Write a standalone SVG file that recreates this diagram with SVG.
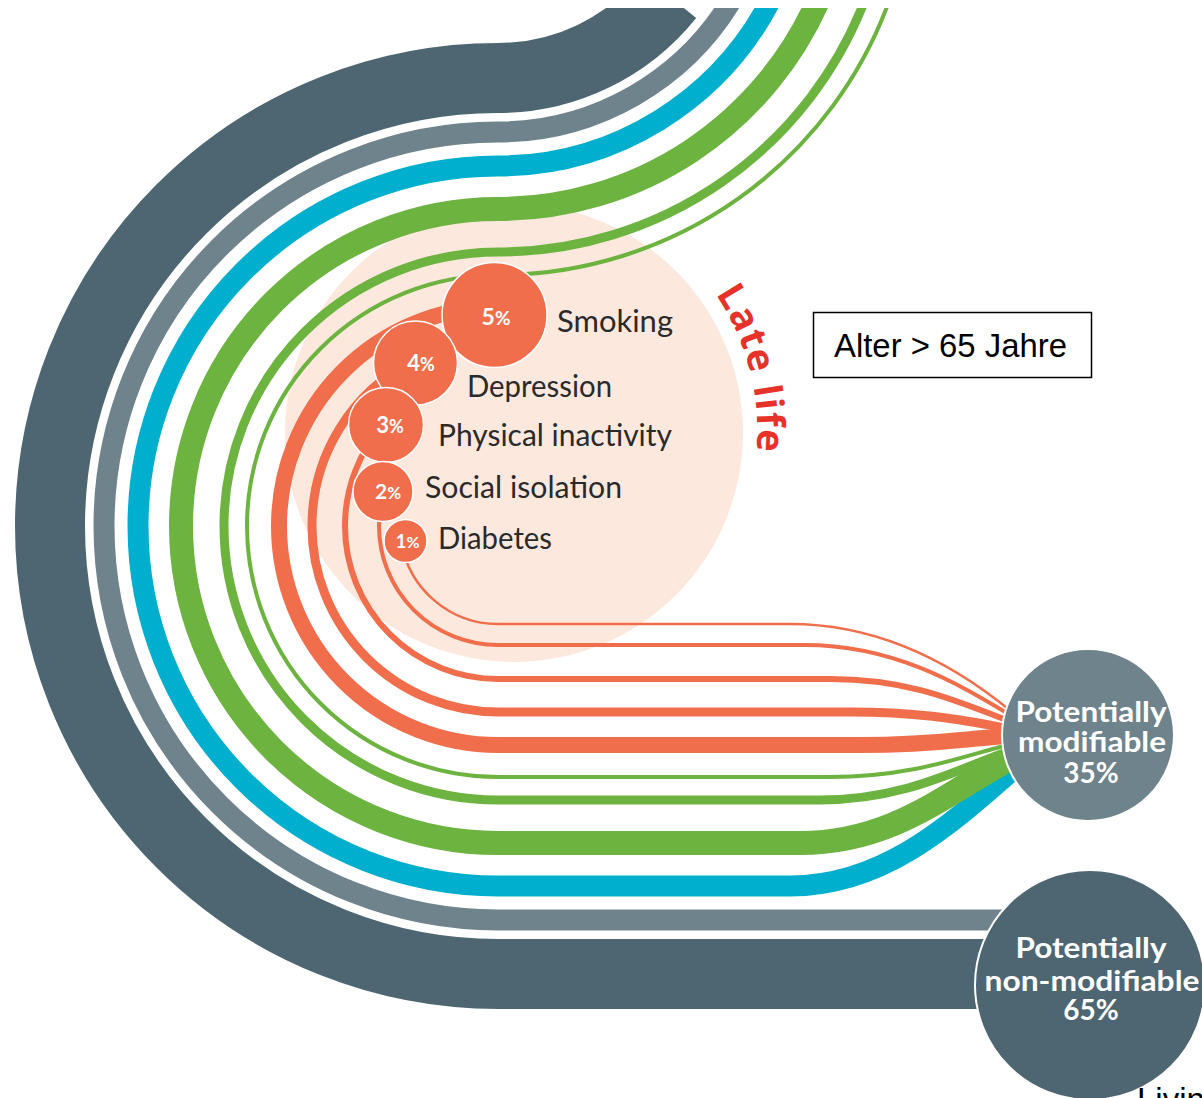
<svg xmlns="http://www.w3.org/2000/svg" width="1202" height="1098" viewBox="0 0 1202 1098">
<defs>
<style>
.band{fill:none;stroke-linecap:butt}
.dark{stroke:#4E6672}
.gray{stroke:#6F838C}
.cyan{stroke:#00AFCD}
.green{stroke:#6DB33F}
.orange{stroke:#F06E4B}
.bubble{fill:#F06E4B;stroke:#FFFFFF;stroke-width:1.5}
.pct{font-family:Lato,"Open Sans",sans-serif;font-weight:700;fill:#FFFFFF;text-anchor:middle}
.lbl{font-family:Lato,"Open Sans",sans-serif;font-size:31px;fill:#2A2A2A}
.big{font-family:Lato,"Open Sans",sans-serif;font-weight:700;font-size:28px;fill:#FFFFFF;text-anchor:middle}
.cal{font-family:"Liberation Sans",Arial,sans-serif;font-size:33px;fill:#000000}
</style>
<clipPath id="clipTop"><rect x="0" y="8" width="1202" height="1090"/></clipPath>
<path id="lateArc" d="M 715.5 294 A 244 244 0 0 1 749 494"/>
</defs>
<rect width="1202" height="1098" fill="#FFFFFF"/>

<g id="node-late-life-zone">
<circle cx="514" cy="433" r="229" fill="#FDE8DE"/>
</g>

<g id="connectors" clip-path="url(#clipTop)">
<path class="band dark" stroke-width="70" d="M 668.9 -4 A 219.1 219.1 0 0 1 498 78 A 448 448 0 0 0 50 526 A 448 448 0 0 0 498 974 H 1060"/>
<path class="band gray" stroke-width="21" d="M 734.2 -4 A 273.1 273.1 0 0 1 498 132 A 394 394 0 0 0 104 526 A 394 394 0 0 0 498 920 H 1050"/>
<path class="band cyan" stroke-width="21" d="M 772.8 -4 A 307.1 307.1 0 0 1 498 166 A 360 360 0 0 0 138 526 A 360 360 0 0 0 498 886 H 790 C 880 886 945 830 1015 768"/>
<path class="band green" stroke-width="24" d="M 820.1 -4 A 350.1 350.1 0 0 1 498 209 A 317 317 0 0 0 181 526 A 317 317 0 0 0 498 843 H 800 C 895 843 950 790 1012 758"/>
<path class="band green" stroke-width="9" d="M 866.4 -4 A 393.1 393.1 0 0 1 498 252 A 274 274 0 0 0 224 526 A 274 274 0 0 0 498 800 H 820 C 905 800 960 768 1012 750"/>
<path class="band green" stroke-width="4" d="M 890.9 -4 A 416.1 416.1 0 0 1 498 275 A 251 251 0 0 0 247 526 A 251 251 0 0 0 498 777 H 830 C 915 777 965 755 1012 744"/>
<path class="band orange" stroke-width="16" d="M 494.4 307 A 219 219 0 0 0 279 526 A 219 219 0 0 0 498 745 H 860 C 940 745 975 737 1012 736"/>
<path class="band orange" stroke-width="9" d="M 414 360 A 186 186 0 0 0 312 526 A 186 186 0 0 0 498 712 H 850 C 930 712 970 722 1012 729"/>
<path class="band orange" stroke-width="6" d="M 384.4 423.5 A 153 153 0 0 0 345 526 A 153 153 0 0 0 498 679 H 830 C 915 679 965 705 1012 722"/>
<path class="band orange" stroke-width="4" d="M 384 491.8 A 119 119 0 0 0 379 526 A 119 119 0 0 0 498 645 H 805 C 895 645 960 685 1012 716"/>
<path class="band orange" stroke-width="2.5" d="M 401.3 541.7 A 98 98 0 0 0 498 624 H 790 C 880 624 955 665 1012 712"/>
</g>

<g id="node-late-life-label">
<text font-family="'Open Sans',Lato,sans-serif" font-weight="700" font-size="38" fill="#E63228" letter-spacing="1.5"><textPath href="#lateArc">Late life</textPath></text>
</g>

<g id="node-smoking">
<circle class="bubble" cx="494.5" cy="315" r="52.5"/>
<text class="pct" x="496" y="325" font-size="23">5<tspan font-size="19">%</tspan></text>
<text class="lbl" x="557" y="332" textLength="116" lengthAdjust="spacingAndGlyphs">Smoking</text>
</g>
<g id="node-depression">
<circle class="bubble" cx="415.5" cy="363" r="42"/>
<text class="pct" x="421" y="371" font-size="22">4<tspan font-size="18">%</tspan></text>
<text class="lbl" x="467" y="397" textLength="145" lengthAdjust="spacingAndGlyphs">Depression</text>
</g>
<g id="node-physical-inactivity">
<circle class="bubble" cx="386" cy="425" r="37.5"/>
<text class="pct" x="390" y="433" font-size="22">3<tspan font-size="18">%</tspan></text>
<text class="lbl" x="438" y="446" textLength="234" lengthAdjust="spacingAndGlyphs">Physical inactivity</text>
</g>
<g id="node-social-isolation">
<circle class="bubble" cx="383" cy="491.5" r="30"/>
<text class="pct" x="388" y="499" font-size="21">2<tspan font-size="17">%</tspan></text>
<text class="lbl" x="425" y="498" textLength="197" lengthAdjust="spacingAndGlyphs">Social isolation</text>
</g>
<g id="node-diabetes">
<circle class="bubble" cx="405.5" cy="541" r="21.5"/>
<text class="pct" x="407.5" y="548" font-size="19">1<tspan font-size="16">%</tspan></text>
<text class="lbl" x="438" y="549" textLength="114" lengthAdjust="spacingAndGlyphs">Diabetes</text>
</g>

<g id="node-age-box">
<rect x="813.5" y="312.5" width="278" height="65" fill="#FFFFFF" stroke="#000000" stroke-width="1.5"/>
<text class="cal" x="834" y="357" textLength="233" lengthAdjust="spacingAndGlyphs">Alter &gt; 65 Jahre</text>
</g>

<g id="node-modifiable">
<circle cx="1088" cy="735" r="86" fill="#6F838C" stroke="#FFFFFF" stroke-width="2"/>
<text class="big" x="1091" y="722" textLength="151" lengthAdjust="spacingAndGlyphs">Potentially</text>
<text class="big" x="1092" y="752" textLength="148" lengthAdjust="spacingAndGlyphs">modifiable</text>
<text class="big" x="1091" y="783">35%</text>
</g>

<g id="node-non-modifiable">
<circle cx="1090" cy="985" r="115" fill="#4E6672" stroke="#FFFFFF" stroke-width="2"/>
<text class="big" x="1091" y="958" textLength="151" lengthAdjust="spacingAndGlyphs">Potentially</text>
<text class="big" x="1092" y="991" textLength="215" lengthAdjust="spacingAndGlyphs">non-modifiable</text>
<text class="big" x="1091" y="1020">65%</text>
</g>

<g id="node-living">
<text class="cal" x="1137" y="1111">Living</text>
</g>
</svg>
